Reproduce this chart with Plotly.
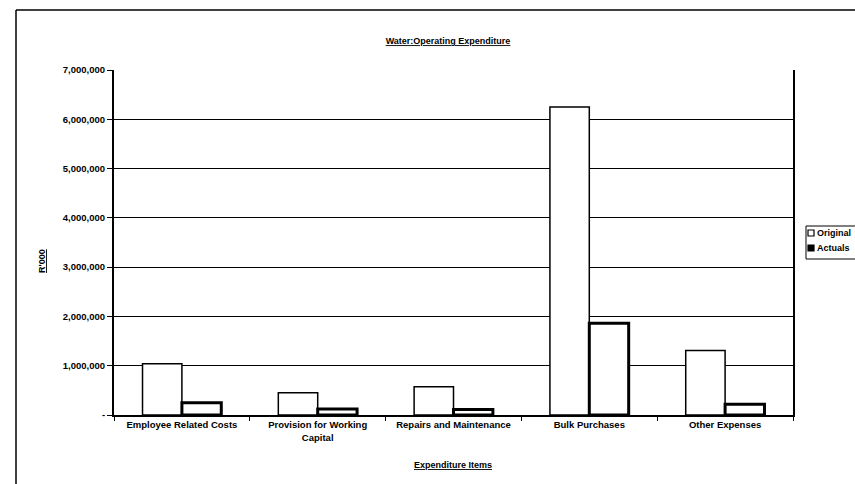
import plotly.graph_objects as go

categories = ["Employee Related Costs", "Provision for Working<br>Capital",
              "Repairs and Maintenance", "Bulk Purchases", "Other Expenses"]
original = [1040000, 450000, 575000, 6250000, 1310000]
actuals = [250000, 120000, 110000, 1860000, 220000]
y_tickvals = [0, 1000000, 2000000, 3000000, 4000000, 5000000, 6000000, 7000000]
y_ticktext = ["-", "1,000,000", "2,000,000", "3,000,000", "4,000,000",
              "5,000,000", "6,000,000", "7,000,000"]
series_names = ["Original", "Actuals"]

FONT = "Liberation Sans, Arial, sans-serif"
W, H = 855, 484
L, R, T, B = 114, 62, 70, 69
PW, PH = W - L - R, H - T - B


def px(xp):
    return (xp - L) / PW


def py(yp):
    return (H - B - yp) / PH


fig = go.Figure()
fig.add_trace(go.Bar(name=series_names[0], x=categories, y=original,
                     marker=dict(color="white", line=dict(color="black", width=1.5))))
fig.add_trace(go.Bar(name=series_names[1], x=categories, y=actuals,
                     marker=dict(color="white", line=dict(color="black", width=3))))

bold = dict(family=FONT, color="black", weight="bold")

fig.update_layout(
    width=W, height=H,
    margin=dict(l=L, r=R, t=T, b=B, autoexpand=False),
    paper_bgcolor="white", plot_bgcolor="white",
    barmode="group", bargap=0.42, bargroupgap=0,
    font=dict(size=9, **bold),
    title=dict(text="<u>Water:Operating Expenditure</u>", x=0.524, xanchor="center",
               y=1 - 41 / H, yanchor="middle", font=dict(size=9, **bold)),
    showlegend=False,
)
fig.update_xaxes(
    type="category", showline=True, linecolor="black", linewidth=1.5,
    ticks="outside", tickson="boundaries", ticklen=4, tickcolor="black",
    tickfont=dict(size=9.5, **bold), showgrid=False,
)
fig.update_yaxes(
    range=[0, 7000000], tickvals=y_tickvals, ticktext=y_ticktext,
    showline=True, linecolor="black", linewidth=2, mirror=True,
    ticks="outside", ticklen=5, tickcolor="black",
    tickfont=dict(size=9.5, **bold),
    showgrid=True, gridcolor="black", gridwidth=1, zeroline=False,
)

# axis titles
fig.add_annotation(text="<u>Expenditure Items</u>", xref="paper", yref="paper",
                   x=px(453), y=py(465), showarrow=False, xanchor="center",
                   yanchor="middle", font=dict(size=9, **bold))
fig.add_annotation(text="<u>R'000</u>", xref="paper", yref="paper",
                   x=px(42), y=py(261), showarrow=False, textangle=-90,
                   xanchor="center", yanchor="middle", font=dict(size=9, **bold))

# legend box (chart legend, running to the right edge as in the original)
fig.add_shape(type="rect", xref="paper", yref="paper",
              x0=px(806), x1=px(870), y0=py(226), y1=py(259),
              line=dict(color="black", width=1), fillcolor="white", layer="above")
legend_styles = [dict(fill="white"), dict(fill="black")]
for i, name in enumerate(series_names):
    yc = 233 + 15 * i
    fig.add_shape(type="rect", xref="paper", yref="paper",
                  x0=px(808), x1=px(814), y0=py(yc + 3), y1=py(yc - 3),
                  line=dict(color="black", width=1.2),
                  fillcolor=legend_styles[i]["fill"], layer="above")
    fig.add_annotation(text=name, xref="paper", yref="paper",
                       x=px(815), y=py(yc), showarrow=False, xanchor="left",
                       yanchor="middle", font=dict(size=9, **bold))

# outer chart frame (top and left edges visible in the scan)
fig.add_shape(type="line", xref="paper", yref="paper",
              x0=px(16), x1=px(860), y0=py(10), y1=py(10),
              line=dict(color="black", width=1.5))
fig.add_shape(type="line", xref="paper", yref="paper",
              x0=px(16), x1=px(16), y0=py(10), y1=py(490),
              line=dict(color="black", width=1.5))

fig.write_html("out.html", config={"displayModeBar": False},
               post_script="document.body.style.margin='0';document.body.style.overflow='hidden';")
